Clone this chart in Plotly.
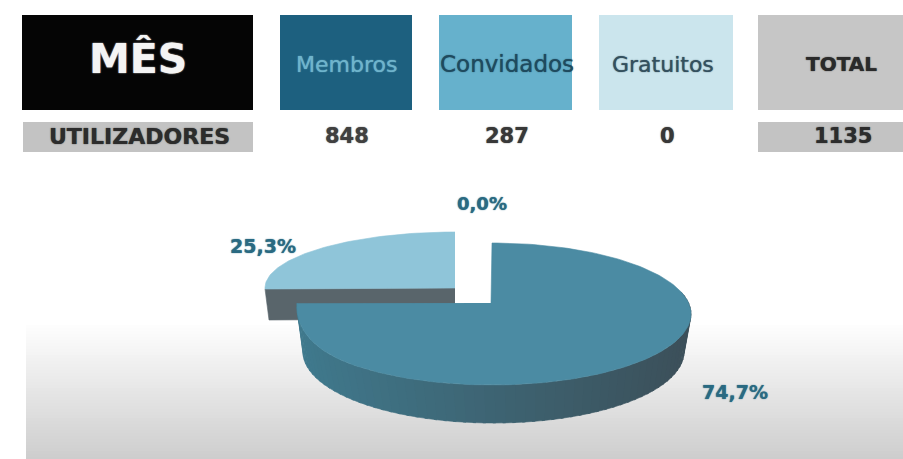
import math
import plotly.graph_objects as go

categories = ["Membros", "Convidados", "Gratuitos"]
users = [848, 287, 0]
total_label = "TOTAL"
month_label = "MÊS"
row_label = "UTILIZADORES"
pct_labels = ["74,7%", "25,3%", "0,0%"]

W, H = 903, 459
total = sum(users)


def frac_angles(i):
    start = sum(users[:i]) / total * 2 * math.pi
    end = sum(users[: i + 1]) / total * 2 * math.pi
    return start, end


def rim(cx, cy, rx, ry, a):
    return cx + rx * math.sin(a), cy - ry * math.cos(a)


def top_rim(a):
    # main slice top face, with the perspective pull at its left corner
    x, y = rim(492, 314, 199, 71, a)
    t = max(0.0, (a - math.radians(225)) / math.radians(44))
    return x + 4 * t * t, y - 12 * t * t


def lerp(c1, c2, t):
    return "rgb(%d,%d,%d)" % tuple(c1[k] + (c2[k] - c1[k]) * t for k in range(3))


fig = go.Figure()


def poly(pts, color):
    fig.add_trace(go.Scatter(
        x=[p[0] for p in pts], y=[p[1] for p in pts], mode="lines",
        fill="toself", fillcolor=color, line=dict(width=0.6, color=color),
        hoverinfo="skip", showlegend=False))


# exploded slice (Convidados)
a0, a1 = frac_angles(1)
ex, ey, erx, ery, ed = 455, 288, 190, 56, 31
r0 = rim(ex, ey, erx, ery, a0)
poly([(ex, ey), r0, (r0[0] + 4, r0[1] + ed), (ex, ey + ed)], "#59656b")
n = 60
poly([(ex, ey)] + [rim(ex, ey, erx, ery, a0 + (a1 - a0) * k / n) for k in range(n + 1)], "#8fc5d9")

# main slice (Membros): side wall then top
m0, m1 = frac_angles(0)
steps = 90
for k in range(steps):
    a = m0 + (m1 - m0) * k / steps
    b = min(m1, m0 + (m1 - m0) * (k + 1.3) / steps)
    if a < math.radians(70):
        continue
    t = (math.sin(a) + 1) / 2
    col = lerp((64, 122, 142), (60, 80, 90), t)
    poly([top_rim(a), top_rim(b),
          rim(493.5, 352, 190.5, 71, b), rim(493.5, 352, 190.5, 71, a)], col)
n = 180
poly([(491, 303)] + [top_rim(m0 + (m1 - m0) * k / n) for k in range(n + 1)], "#4b8ba3")

shapes = []
# background gradient
for y in range(322, H, 3):
    t = (y - 322) / (H - 322)
    v = 255 - 50 * t
    shapes.append(dict(type="rect", x0=26, x1=W, y0=y, y1=y + 3, layer="below",
                       fillcolor="rgb(%d,%d,%d)" % (v, v, v), line_width=0))

tiles = [
    (22, 253, 15, 110, "#050505"),
    (280, 412, 15, 110, "#1d607f"),
    (439, 572, 15, 110, "#66b1cc"),
    (599, 733, 15, 110, "#cbe5ed"),
    (758, 903, 15, 110, "#c6c6c6"),
    (23, 253, 122, 152, "#c3c3c3"),
    (758, 903, 122, 152, "#c3c3c3"),
]
for x0, x1, y0, y1, c in tiles:
    shapes.append(dict(type="rect", x0=x0, x1=x1, y0=y0, y1=y1, fillcolor=c, line_width=0, layer="below"))

SANS = "DejaVu Sans"
anns = []


def label(x, y, text, size, color, bold=True, shadow=None):
    anns.append(dict(x=x, y=y, text="<b>%s</b>" % text if bold else text, showarrow=False,
                     xref="x", yref="y", xanchor="center", yanchor="middle",
                     font=dict(size=size, color=color, family=SANS,
                               shadow=shadow or "0 0 1.2px %s" % color)))


label(138, 59, month_label, 41, "#f4f4f4", True, "0 0 1.5px #f4f4f4")
label(346, 64, categories[0], 22, "#6fb4cc", False)
label(507, 64, categories[1], 23, "#1f4a5e", False)
label(663, 64, categories[2], 22, "#34505e", False)
label(841, 64, total_label, 20, "#2a2a2a")
label(139, 136, row_label, 22, "#2c2c2c")
label(347, 136, str(users[0]), 21, "#404040")
label(507, 136, str(users[1]), 21, "#383838")
label(667, 136, str(users[2]), 21, "#383838")
label(843, 136, str(total), 21, "#2c2c2c")
label(735, 392, pct_labels[0], 19, "#2a6a82")
label(263, 246, pct_labels[1], 19, "#2a6a82")
label(482, 203, pct_labels[2], 18, "#2a6a82")

fig.update_layout(
    width=W, height=H, margin=dict(l=0, r=0, t=0, b=0),
    paper_bgcolor="white", plot_bgcolor="white", showlegend=False,
    xaxis=dict(range=[0, W], visible=False, fixedrange=True),
    yaxis=dict(range=[H, 0], visible=False, fixedrange=True),
    shapes=shapes, annotations=anns,
)
fig.write_html("out.html", config=dict(displayModeBar=False),
               post_script="document.body.style.margin='0';document.body.style.overflow='hidden';")
